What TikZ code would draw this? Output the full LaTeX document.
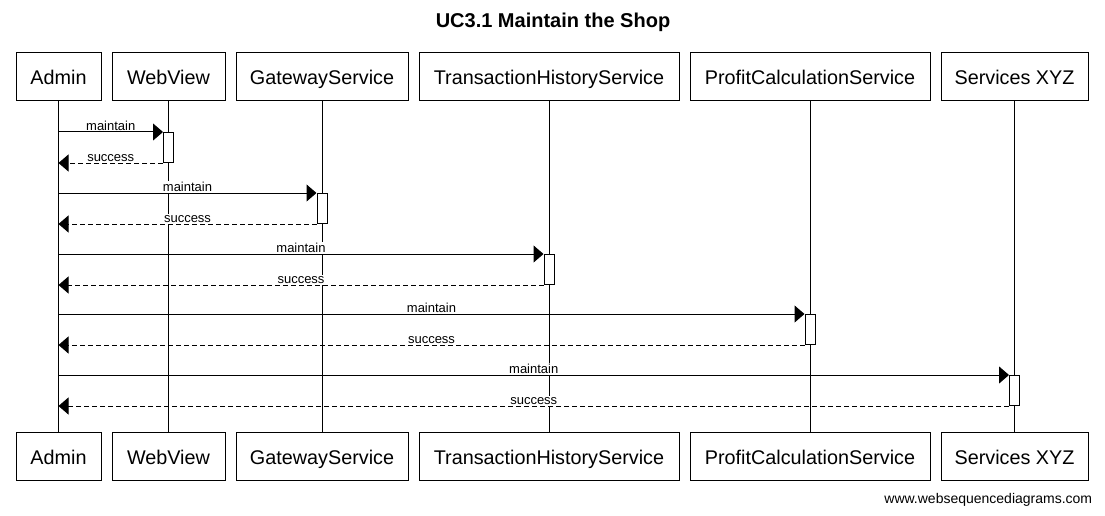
\documentclass[tikz,border=0pt]{standalone}
\usepackage{fontspec}
\setmainfont{Liberation Sans}
\usetikzlibrary{arrows.meta,positioning}

\begin{document}
\begin{tikzpicture}[x=1pt,y=-1pt,line width=1pt,
  actor/.style={draw,minimum height=48pt,inner sep=0pt,text height=16pt,text depth=0pt,
    font=\fontsize{19.8}{21}\selectfont},
  actbox/.style={draw,fill=white,minimum width=10pt,minimum height=30pt,inner sep=0pt,anchor=north},
  msglab/.style={fill=white,inner sep=1pt,font=\fontsize{13}{14}\selectfont},
  call/.style={-{Triangle[length=10pt,width=17pt]}},
  reply/.style={call,dash pattern=on 5pt off 3pt}]
  \useasboundingbox (0,0) rectangle (1105,516);
  \node[font=\bfseries\fontsize{20}{22}\selectfont] (title) at (553,22) {UC3.1 Maintain the Shop};
  % participants, top and bottom, joined by their lifelines
  \foreach \nm/\lab/\cx/\w in {admin/Admin/58.5/85, web/WebView/168.5/113, gate/GatewayService/322/172,
      hist/TransactionHistoryService/549/260, profit/ProfitCalculationService/810/240, xyz/Services XYZ/1014.5/147}{
    \node[actor,minimum width=\w pt] (top-\nm) at (\cx,77) {\lab};
    \node[actor,minimum width=\w pt] (bot-\nm) at (\cx,456) {\lab};
    \draw (top-\nm) -- (bot-\nm);
  }
  % one maintain/success pair per service
  \foreach \i/\nm/\y in {1/web/132, 2/gate/193, 3/hist/254, 4/profit/314, 5/xyz/375}{
    \coordinate (row\i) at (0,\y);
    \node[actbox] (act\i) at (top-\nm |- row\i) {};
    \draw[call] (top-admin |- act\i.north) -- node[msglab,above] (call\i) {maintain} (act\i.north west);
    \draw[reply] (act\i.south west) -- node[msglab,above] (back\i) {success} (top-admin |- act\i.south);
  }
  \node[anchor=east,font=\fontsize{14}{16}\selectfont] (site) at (1096,500) {www.websequencediagrams.com};
\end{tikzpicture}
\end{document}
